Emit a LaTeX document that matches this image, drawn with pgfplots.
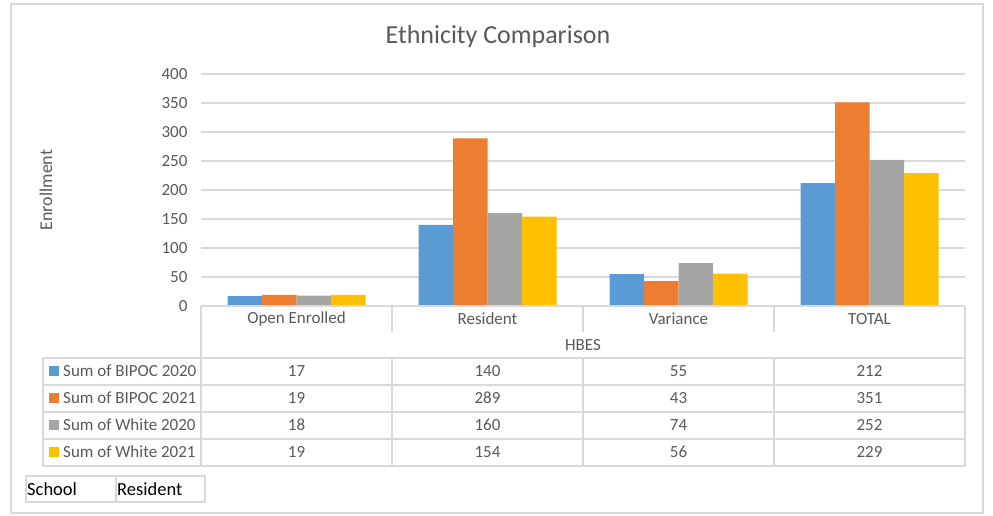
\documentclass[border=0pt]{standalone}
\usepackage{fontspec}
\setmainfont{Carlito}
\usepackage{pgfplots}
\pgfplotsset{compat=1.18}
\definecolor{exblue}{HTML}{5B9BD5}
\definecolor{exorange}{HTML}{ED7D31}
\definecolor{exgray}{HTML}{A5A5A5}
\definecolor{exgold}{HTML}{FFC000}
\definecolor{txt}{HTML}{595959}
\definecolor{gridc}{HTML}{D9D9D9}
\newcommand{\tf}{\fontsize{17}{20}\selectfont}
\begin{document}
\begin{tikzpicture}[x=1pt,y=1pt,font=\tf]
\useasboundingbox (0,0) rectangle (993,515);
\coordinate (O) at (201,209);
\draw[gridc,line width=1.2pt] (11,515-4) rectangle (983,515-513);
\node[txt,font=\fontsize{26}{30}\selectfont] at (498,515-37) {Ethnicity Comparison};
\node[txt,rotate=90,font=\fontsize{18}{21}\selectfont] at (46,515-190) {Enrollment};
\begin{axis}[
  at={(O)}, anchor=south west,
  scale only axis, width=764pt, height=232pt,
  xmin=-0.5, xmax=3.5, ymin=0, ymax=400,
  ybar=0pt, bar width=34.5pt,
  xtick=\empty, ytick={0,50,...,400},
  ymajorgrids, grid style={draw=gridc,line width=1.2pt},
  axis line style={draw=none}, major tick length=0pt,
  yticklabel style={font=\tf,text=txt,xshift=-10pt},
  /pgf/number format/assume math mode=true,
  clip=false,
]
\addplot[fill=exblue,draw=none] coordinates {(0,17) (1,140) (2,55) (3,212)};
\addplot[fill=exorange,draw=none] coordinates {(0,19) (1,289) (2,43) (3,351)};
\addplot[fill=exgray,draw=none] coordinates {(0,18) (1,160) (2,74) (3,252)};
\addplot[fill=exgold,draw=none] coordinates {(0,19) (1,154) (2,56) (3,229)};
\end{axis}
% data table under the axis
\begin{scope}[gridc,line width=1.2pt]
\draw (201,515-306) -- (965,515-306);
\draw (201,515-306) -- (201,515-466);
\draw (965,515-306) -- (965,515-466);
\foreach \x in {392,583,774} {
  \draw (\x,515-306) -- (\x,515-332);
  \draw (\x,515-358) -- (\x,515-466);
}
\foreach \y in {358,385,412,439,466} \draw (43,515-\y) -- (965,515-\y);
\draw (43,515-358) -- (43,515-466);
\draw (26,515-476) rectangle (205,515-502);
\draw (116,515-476) -- (116,515-502);
\end{scope}
\begin{scope}[every node/.style={text=txt,inner sep=0pt}]
\node at (296.5,515-319) {Open Enrolled};
\node at (487.5,515-319) {Resident};
\node at (678.5,515-319) {Variance};
\node at (869.5,515-319) {TOTAL};
\node at (583,515-345) {HBES};
\foreach \c/\lab [count=\i] in {exblue/Sum of BIPOC 2020,exorange/Sum of BIPOC 2021,exgray/Sum of White 2020,exgold/Sum of White 2021} {
  \fill[\c] (49,515-339-27*\i) rectangle (59,515-349-27*\i);
  \node[anchor=west] at (63,515-344-27*\i) {\lab};
}
\foreach \a/\b/\c/\d [count=\i] in {17/140/55/212,19/289/43/351,18/160/74/252,19/154/56/229} {
  \node at (296.5,515-344-27*\i) {\a};
  \node at (487.5,515-344-27*\i) {\b};
  \node at (678.5,515-344-27*\i) {\c};
  \node at (869.5,515-344-27*\i) {\d};
}
\node[anchor=west,text=black,font=\fontsize{18.5}{22}\selectfont] at (27,515-489) {School};
\node[anchor=west,text=black,font=\fontsize{18.5}{22}\selectfont] at (117,515-489) {Resident};
\end{scope}
\end{tikzpicture}
\end{document}
